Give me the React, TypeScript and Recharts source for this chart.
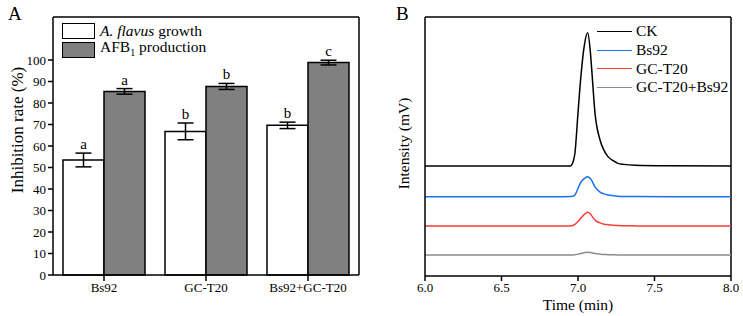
import React from "react"
import {
    BarChart,
    Bar,
    ErrorBar,
    LabelList,
    LineChart,
    Line,
    XAxis,
    YAxis,
    Legend,
    CartesianGrid,
} from "recharts"

// Panel A: inhibition rates per treatment
const treatments = ["Bs92", "GC-T20", "Bs92+GC-T20"]
const growthRate = [53.5, 66.8, 69.6]
const growthErr = [3.2, 3.9, 1.5]
const growthLetters = ["a", "b", "b"]
const afbRate = [85.4, 87.7, 98.8]
const afbErr = [1.3, 1.4, 1.1]
const afbLetters = ["a", "b", "c"]
const rateTicks = [0, 10, 20, 30, 40, 50, 60, 70, 80, 90, 100]

// Panel B: chromatogram traces (stacked, arbitrary mV offsets)
const time = [6.0, 6.9, 6.95, 6.97, 6.98, 7.0, 7.013, 7.04, 7.063, 7.08, 7.09, 7.111, 7.144, 7.17, 7.196, 7.23, 7.261, 7.3, 7.373, 7.6, 8.0]
const ckSignal = [42.5, 42.5, 42.5, 44.5, 47.5, 63, 73, 88.5, 93.9, 87, 79.5, 63, 52.5, 48.5, 46.1, 44.5, 43.5, 43.1, 42.8, 42.6, 42.5]
const bs92Signal = [30.6, 30.6, 30.65, 30.9, 31.3, 33.8, 35.6, 37.6, 38.3, 37.6, 36.8, 34.4, 32.4, 31.7, 31.3, 31.0, 30.8, 30.7, 30.65, 30.6, 30.6]
const gcSignal = [19.3, 19.3, 19.35, 19.6, 19.9, 21.0, 21.9, 23.7, 24.6, 24.0, 23.2, 21.6, 20.5, 20.0, 19.8, 19.6, 19.5, 19.4, 19.35, 19.3, 19.3]
const mixSignal = [8.1, 8.1, 8.1, 8.15, 8.2, 8.45, 8.6, 9.0, 9.2, 9.1, 9.0, 8.7, 8.45, 8.3, 8.25, 8.2, 8.15, 8.1, 8.1, 8.1, 8.1]
const timeTicks = [6.0, 6.5, 7.0, 7.5, 8.0]

const traces = [
    { key: "ck", name: "CK", color: "#000000" },
    { key: "bs92", name: "Bs92", color: "#1a73e8" },
    { key: "gc", name: "GC-T20", color: "#ff3b3b" },
    { key: "mix", name: "GC-T20+Bs92", color: "#8c8c8c" },
]

const barData = treatments.map((name, i) => ({
    name,
    growth: growthRate[i],
    growthErr: growthErr[i],
    afb: afbRate[i],
    afbErr: afbErr[i],
}))

const lineData = time.map((t, i) => ({
    t,
    ck: ckSignal[i],
    bs92: bs92Signal[i],
    gc: gcSignal[i],
    mix: mixSignal[i],
}))

const FONT = "Liberation Serif"
const AX = { stroke: "#000", strokeWidth: 1.5 }

// top and right edges of the plot box, taken from the chart offset
const topEdge = ({ offset }: any) => [offset.top]
const rightEdge = ({ offset }: any) => [offset.left + offset.width]

// serif tick labels
const xTick = (fmt: (v: any) => string) => (props: any) => {
    const { x, y, payload } = props
    return (
        <text x={x} y={y + 9} textAnchor="middle" fontSize={13} fontFamily={FONT} fill="#000">
            {fmt(payload.value)}
        </text>
    )
}

const yTick = (props: any) => {
    const { x, y, payload } = props
    return (
        <text x={x} y={y} textAnchor="end" dominantBaseline="central" fontSize={13} fontFamily={FONT} fill="#000">
            {payload.value}
        </text>
    )
}

// letter above the error bar cap
const letterLabel = (errs: number[], letters: string[]) => (props: any) => {
    const { x, y, width, height, value, index } = props
    const pxPerUnit = height / value
    const top = y - errs[index] * pxPerUnit
    return (
        <text x={x + width / 2} y={top - 4} textAnchor="middle" fontSize={15} fontFamily={FONT} fill="#000">
            {letters[index]}
        </text>
    )
}

function BarLegend() {
    const rows = [
        { fill: "#ffffff", label: <><i>A. flavus</i> growth</> },
        { fill: "#808080", label: <>AFB<sub style={{ fontSize: 10 }}>1</sub> production</> },
    ]
    return (
        <div style={{ fontFamily: FONT, fontSize: 15.5, color: "#000" }}>
            {rows.map((r, i) => (
                <div key={i} style={{ display: "flex", alignItems: "center", height: 18.5 }}>
                    <span style={{ width: 31, height: 14, background: r.fill, border: "1.5px solid #000", marginRight: 5 }} />
                    <span style={{ lineHeight: "18px" }}>{r.label}</span>
                </div>
            ))}
        </div>
    )
}

function LineLegend() {
    return (
        <div style={{ fontFamily: FONT, fontSize: 15.5, color: "#000" }}>
            {traces.map((tr) => (
                <div key={tr.key} style={{ display: "flex", alignItems: "center", height: 18.7 }}>
                    <span style={{ width: 35, height: 0, borderTop: `1.5px solid ${tr.color}`, marginRight: 4 }} />
                    <span>{tr.name}</span>
                </div>
            ))}
        </div>
    )
}

export default function App() {
    return (
        <div style={{ position: "fixed", left: 0, top: 0, width: 743, height: 316, background: "#fff", fontFamily: FONT }}>
            <div style={{ position: "absolute", left: 0, top: 0, width: 370, height: 316 }}>
                <BarChart width={370} height={316} data={barData} margin={{ top: 17, right: 11, left: 0, bottom: 0 }} barCategoryGap={10} barGap={0}>
                    <CartesianGrid
                        stroke="#000"
                        strokeWidth={1.5}
                        horizontalCoordinatesGenerator={topEdge}
                        verticalCoordinatesGenerator={rightEdge}
                    />
                    <XAxis dataKey="name" height={41} axisLine={AX} tickLine={AX} tickSize={6} tick={xTick((v) => v)} interval={0} />
                    <YAxis
                        domain={[0, 120]}
                        ticks={rateTicks}
                        interval={0}
                        width={53}
                        axisLine={AX}
                        tickLine={AX}
                        tickSize={5}
                        tick={yTick}
                        label={({ viewBox }: any) => (
                            <text
                                x={17}
                                y={viewBox.y + viewBox.height / 2 - 16}
                                transform={`rotate(-90, 17, ${viewBox.y + viewBox.height / 2 - 16})`}
                                textAnchor="middle"
                                dominantBaseline="central"
                                fontSize={17}
                                fontFamily={FONT}
                                fill="#000"
                            >
                                Inhibition rate (%)
                            </text>
                        )}
                    />
                    <Legend
                        layout="vertical"
                        align="center"
                        verticalAlign="middle"
                        wrapperStyle={{ left: 62, top: 22, width: 200, height: 40 }}
                        content={() => <BarLegend />}
                    />
                    <Bar dataKey="growth" fill="#ffffff" stroke="#000" strokeWidth={1.5} isAnimationActive={false}>
                        <ErrorBar dataKey="growthErr" width={8} stroke="#000" strokeWidth={1.5} direction="y" />
                        <LabelList dataKey="growth" content={letterLabel(growthErr, growthLetters)} />
                    </Bar>
                    <Bar dataKey="afb" fill="#808080" stroke="#000" strokeWidth={1.5} isAnimationActive={false}>
                        <ErrorBar dataKey="afbErr" width={8} stroke="#000" strokeWidth={1.5} direction="y" />
                        <LabelList dataKey="afb" content={letterLabel(afbErr, afbLetters)} />
                    </Bar>
                </BarChart>
            </div>

            <div style={{ position: "absolute", left: 370, top: 0, width: 373, height: 316 }}>
                <LineChart width={373} height={316} data={lineData} margin={{ top: 17, right: 12, left: 0, bottom: 0 }}>
                    <CartesianGrid
                        stroke="#000"
                        strokeWidth={1.5}
                        horizontalCoordinatesGenerator={topEdge}
                        verticalCoordinatesGenerator={rightEdge}
                    />
                    <XAxis
                        dataKey="t"
                        type="number"
                        domain={[6, 8]}
                        ticks={timeTicks}
                        interval={0}
                        height={40}
                        axisLine={AX}
                        tickLine={AX}
                        tickSize={5}
                        tick={xTick((v: number) => v.toFixed(1))}
                        label={({ viewBox }: any) => (
                            <text x={viewBox.x + viewBox.width / 2} y={304} textAnchor="middle" dominantBaseline="central" fontSize={15.5} fontFamily={FONT} fill="#000">
                                Time (min)
                            </text>
                        )}
                    />
                    <YAxis
                        domain={[0, 100]}
                        width={55}
                        axisLine={AX}
                        tick={false}
                        tickLine={false}
                        label={({ viewBox }: any) => (
                            <text
                                x={33}
                                y={viewBox.y + viewBox.height / 2 - 3}
                                transform={`rotate(-90, 33, ${viewBox.y + viewBox.height / 2 - 3})`}
                                textAnchor="middle"
                                dominantBaseline="central"
                                fontSize={15.5}
                                fontFamily={FONT}
                                fill="#000"
                            >
                                Intensity (mV)
                            </text>
                        )}
                    />
                    <Legend
                        layout="vertical"
                        align="center"
                        verticalAlign="middle"
                        wrapperStyle={{ left: 227, top: 22, width: 140, height: 76 }}
                        content={() => <LineLegend />}
                    />
                    {traces.map((tr) => (
                        <Line
                            key={tr.key}
                            dataKey={tr.key}
                            name={tr.name}
                            type="monotone"
                            stroke={tr.color}
                            strokeWidth={1.5}
                            dot={false}
                            isAnimationActive={false}
                        />
                    ))}
                </LineChart>
            </div>

            <span style={{ position: "absolute", left: 8, top: 3, fontSize: 19 }}>A</span>
            <span style={{ position: "absolute", left: 396, top: 3, fontSize: 19 }}>B</span>
        </div>
    )
}
